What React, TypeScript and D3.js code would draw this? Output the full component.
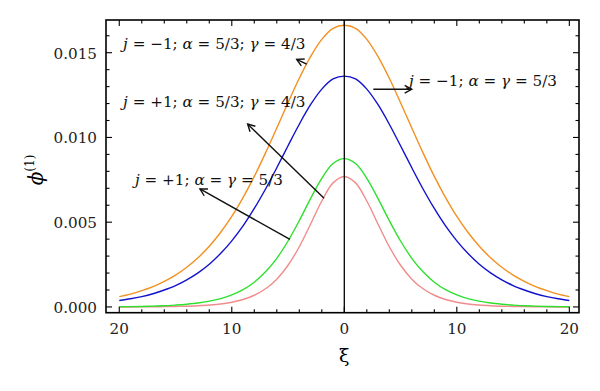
import React from "react";
import * as d3 from "d3";

// ξ grid and curves (symmetric around ξ = 0)
const xi = [-20, -19, -18, -17, -16, -15, -14, -13, -12, -11, -10, -9, -8, -7, -6, -5, -4, -3, -2, -1, 0,
  1, 2, 3, 4, 5, 6, 7, 8, 9, 10, 11, 12, 13, 14, 15, 16, 17, 18, 19, 20];

const orangeVals = [0.00061, 0.00076, 0.00096, 0.00120, 0.00151, 0.00188, 0.00234, 0.00290, 0.00358, 0.00439,
  0.00534, 0.00645, 0.00770, 0.00909, 0.01056, 0.01205, 0.01349, 0.01477, 0.01579, 0.01644, 0.01662,
  0.01644, 0.01579, 0.01477, 0.01349, 0.01205, 0.01056, 0.00909, 0.00770, 0.00645, 0.00534,
  0.00439, 0.00358, 0.00290, 0.00234, 0.00188, 0.00151, 0.00120, 0.00096, 0.00076, 0.00061];

const blueVals = [0.00038, 0.00048, 0.00061, 0.00078, 0.00100, 0.00126, 0.00160, 0.00201, 0.00252, 0.00315,
  0.00390, 0.00478, 0.00581, 0.00696, 0.00821, 0.00951, 0.01078, 0.01193, 0.01285, 0.01345, 0.01362,
  0.01345, 0.01285, 0.01193, 0.01078, 0.00951, 0.00821, 0.00696, 0.00581, 0.00478, 0.00390,
  0.00315, 0.00252, 0.00201, 0.00160, 0.00126, 0.00100, 0.00078, 0.00061, 0.00048, 0.00038];

const greenVals = [0.00001, 0.00002, 0.00003, 0.00005, 0.00007, 0.00011, 0.00016, 0.00023, 0.00034, 0.00049,
  0.00071, 0.00102, 0.00146, 0.00207, 0.00287, 0.00389, 0.00509, 0.00639, 0.00759, 0.00846, 0.00875,
  0.00846, 0.00759, 0.00639, 0.00509, 0.00389, 0.00287, 0.00207, 0.00146, 0.00102, 0.00071,
  0.00049, 0.00034, 0.00023, 0.00016, 0.00011, 0.00007, 0.00005, 0.00003, 0.00002, 0.00001];

const pinkVals = [0.00000, 0.00000, 0.00001, 0.00001, 0.00002, 0.00003, 0.00004, 0.00007, 0.00011, 0.00017,
  0.00028, 0.00044, 0.00069, 0.00107, 0.00164, 0.00246, 0.00355, 0.00488, 0.00625, 0.00732, 0.00770,
  0.00732, 0.00625, 0.00488, 0.00355, 0.00246, 0.00164, 0.00107, 0.00069, 0.00044, 0.00028,
  0.00017, 0.00011, 0.00007, 0.00004, 0.00003, 0.00002, 0.00001, 0.00001, 0.00000, 0.00000];

const series = [
  { name: "pink", color: "#F08C8C", values: pinkVals },
  { name: "green", color: "#2EE02E", values: greenVals },
  { name: "blue", color: "#1212CC", values: blueVals },
  { name: "orange", color: "#F39020", values: orangeVals },
];

const xTickValues = [-20, -10, 0, 10, 20];
const xTickLabels = ["20", "10", "0", "10", "20"];
const yTickValues = [0, 0.005, 0.01, 0.015];
const yTickLabels = ["0.000", "0.005", "0.010", "0.015"];

// annotation labels and arrows, in data coordinates (ξ, φ)
const labels = [
  { x: -19.66, y: 0.01522, j: "\u22121", rest: [["α", " = 5/3; "], ["γ", " = 4/3"]] },
  { x: -19.66, y: 0.01181, j: "+1", rest: [["α", " = 5/3; "], ["γ", " = 4/3"]] },
  { x: -18.6, y: 0.0072, j: "+1", rest: [["α", " = "], ["γ", " = 5/3"]] },
  { x: 5.75, y: 0.01304, j: "\u22121", rest: [["α", " = "], ["γ", " = 5/3"]] },
];
const arrows = [
  { from: [-3.34, 0.01432], to: [-4.23, 0.01461] },
  { from: [-1.8, 0.00641], to: [-8.59, 0.01079] },
  { from: [-4.83, 0.00399], to: [-12.83, 0.00696] },
  { from: [2.58, 0.01284], to: [5.99, 0.01284] },
];

const W = 600;
const H = 391;
const left = 106, right = 579, top = 20, bottom = 312.7;
const font = "'DejaVu Serif', 'Liberation Serif', serif";

export default function App() {
  const x = d3.scaleLinear().domain([-21.18, 20.86]).range([left, right]);
  const y = d3.scaleLinear().domain([-0.00034, 0.01693]).range([bottom, top]);

  const line = d3.line<number>()
    .x((d, i) => x(xi[i]))
    .y(d => y(d))
    .curve(d3.curveCatmullRom);

  const xMinor = d3.range(-20, 21, 2);
  const yMinor = d3.range(0, 0.0165, 0.001);

  const head = (fx: number, fy: number, tx: number, ty: number) => {
    const ang = Math.atan2(fy - ty, fx - tx);
    const len = 8, spread = 0.5;
    const p1 = [tx + len * Math.cos(ang + spread), ty + len * Math.sin(ang + spread)];
    const p2 = [tx + len * Math.cos(ang - spread), ty + len * Math.sin(ang - spread)];
    return `M${p1[0]},${p1[1]}L${tx},${ty}L${p2[0]},${p2[1]}`;
  };

  return (
    <svg width={W} height={H} style={{ position: "absolute", left: 0, top: 0, background: "#fff", fontFamily: font }}>
      {/* curves */}
      <g fill="none" strokeWidth={1.4}>
        {series.map(s => (
          <path key={s.name} d={line(s.values) || ""} stroke={s.color} />
        ))}
      </g>

      {/* zero line */}
      <line x1={x(0)} x2={x(0)} y1={top} y2={bottom} stroke="#000" strokeWidth={1.3} />

      {/* frame */}
      <rect x={left} y={top} width={right - left} height={bottom - top} fill="none" stroke="#000" strokeWidth={1.6} />

      {/* ticks, inward on all four sides */}
      <g stroke="#000" strokeWidth={1.1}>
        {xMinor.map(v => {
          const major = v % 10 === 0;
          const l = major ? 6 : 3.5;
          return (
            <g key={"xt" + v}>
              <line x1={x(v)} x2={x(v)} y1={bottom} y2={bottom - l} />
              <line x1={x(v)} x2={x(v)} y1={top} y2={top + l} />
            </g>
          );
        })}
        {yMinor.map((v, i) => {
          const major = i % 5 === 0;
          const l = major ? 6 : 3.5;
          return (
            <g key={"yt" + i}>
              <line x1={left} x2={left + l} y1={y(v)} y2={y(v)} />
              <line x1={right} x2={right - l} y1={y(v)} y2={y(v)} />
            </g>
          );
        })}
      </g>

      {/* tick labels */}
      <g style={{ fontFamily: font, fontSize: "15.2px" }} fill="#222">
        {xTickValues.map((v, i) => (
          <text key={"xl" + i} x={x(v)} y={333.5} textAnchor="middle">{xTickLabels[i]}</text>
        ))}
        {yTickValues.map((v, i) => (
          <text key={"yl" + i} x={97} y={y(v) + 5.8} textAnchor="end">{yTickLabels[i]}</text>
        ))}
      </g>

      {/* axis titles */}
      <text x={x(0)} y={362} textAnchor="middle" style={{ fontFamily: font, fontSize: "19px" }}>ξ</text>
      <text transform="translate(43,170) rotate(-90)" textAnchor="middle" style={{ fontFamily: font, fontSize: "20px" }}>
        <tspan fontStyle="italic">ϕ</tspan>
        <tspan fontSize={12} dy={-9}>(1)</tspan>
      </text>

      {/* annotations */}
      <g style={{ fontFamily: font, fontSize: "15.2px" }} fill="#111">
        {labels.map((lb, i) => (
          <text key={"lb" + i} x={x(lb.x)} y={y(lb.y)}>
            <tspan fontStyle="italic">j</tspan>
            <tspan>{" = " + lb.j + "; "}</tspan>
            {lb.rest.map((r, k) => (
              <React.Fragment key={k}>
                <tspan fontStyle="italic">{r[0]}</tspan>
                <tspan>{r[1]}</tspan>
              </React.Fragment>
            ))}
          </text>
        ))}
      </g>
      <g stroke="#111" strokeWidth={1.4} fill="none">
        {arrows.map((a, i) => {
          const fx = x(a.from[0]), fy = y(a.from[1]);
          const tx = x(a.to[0]), ty = y(a.to[1]);
          return (
            <g key={"ar" + i}>
              <line x1={fx} y1={fy} x2={tx} y2={ty} />
              <path d={head(fx, fy, tx, ty)} />
            </g>
          );
        })}
      </g>
    </svg>
  );
}
